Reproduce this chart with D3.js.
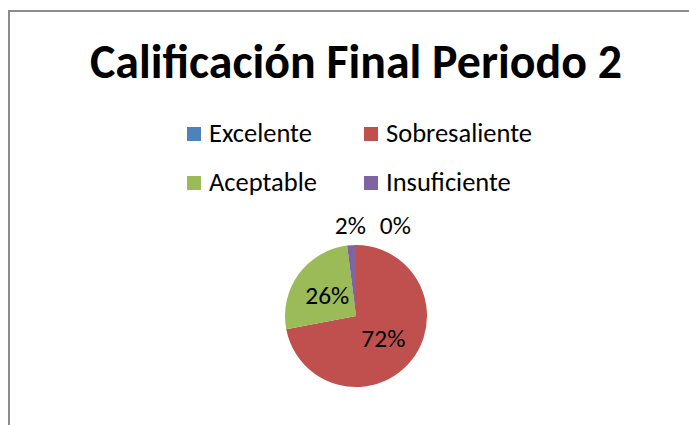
<!DOCTYPE html>
<html>
<head>
<meta charset="utf-8">
<script src="https://cdn.jsdelivr.net/npm/d3@7"></script>
<style>
  body { margin: 0; background: #fff; }
  svg { display: block; font-family: Carlito, Lato, "Open Sans", sans-serif; }
</style>
</head>
<body>
<svg id="chart" width="689" height="425"></svg>
<script>
const TITLE = "Calificación Final Periodo 2";
const categories = ["Excelente", "Sobresaliente", "Aceptable", "Insuficiente"];
const values = [0, 36, 13, 1];
const colors = ["#4F81BD", "#C0504D", "#9BBB59", "#8064A2"];

const W = 689, H = 425;
const svg = d3.select("#chart");

// font size that makes str come out w pixels wide
function fitSize(str, w, weight) {
  let t = svg.append("text").attr("font-size", 40).attr("font-weight", weight || "normal").text(str);
  let len = t.node().getComputedTextLength();
  t.remove();
  return 40 * w / len;
}

// chart frame, runs off the right and bottom edge
svg.append("rect")
  .attr("x", 9).attr("y", 11)
  .attr("width", W + 20).attr("height", H + 20)
  .attr("fill", "#fff")
  .attr("stroke", "#8c8c8c")
  .attr("stroke-width", 2);

svg.append("text")
  .attr("x", 356).attr("y", 78)
  .attr("text-anchor", "middle")
  .attr("font-weight", "bold")
  .attr("font-size", fitSize(TITLE, 532, "bold"))
  .attr("fill", "#000")
  .text(TITLE);

// legend, 2 columns
const legendX = [187, 364];
const legendY = [127, 176];
const SQ = 14;
const legendFont = fitSize("Sobresaliente", 146);
let lg = svg.append("g");
categories.forEach((c, i) => {
  let col = i % 2, row = Math.floor(i / 2);
  let g = lg.append("g").attr("transform", `translate(${legendX[col]},${legendY[row]})`);
  g.append("rect").attr("width", SQ).attr("height", SQ).attr("fill", colors[i]);
  g.append("text")
    .attr("x", 22).attr("y", SQ + 1)
    .attr("font-size", legendFont)
    .attr("fill", "#000")
    .text(c);
});

// pie
const cx = 356, cy = 316, R = 71;
const total = d3.sum(values);
const pie = d3.pie().sort(null).value(d => d)(values);
const arc = d3.arc().innerRadius(0).outerRadius(R);
const inner = d3.arc().innerRadius(R * 0.5).outerRadius(R * 0.5);
const outer = d3.arc().innerRadius(R + 20).outerRadius(R + 20);

let pg = svg.append("g").attr("transform", `translate(${cx},${cy})`);
pg.selectAll("path").data(pie).enter().append("path")
  .attr("d", arc)
  .attr("fill", (d, i) => colors[i]);

let labels = pie.map((d, i) => {
  let share = d.value / total;
  let small = share < 0.05;
  let p = small ? outer.centroid(d) : inner.centroid(d);
  return { txt: Math.round(share * 100) + "%", x: p[0], y: p[1], small: small, i: i };
});

const labelFont = fitSize("72%", 44);
let lt = pg.selectAll("text.lbl").data(labels).enter().append("text")
  .attr("class", "lbl")
  .attr("text-anchor", "middle")
  .attr("dominant-baseline", "central")
  .attr("font-size", labelFont)
  .attr("fill", "#000")
  .text(d => d.txt);

// push small outside labels apart so they don't sit on top of each other
let outs = labels.filter(d => d.small).sort((a, b) => a.x - b.x);
lt.each(function(d) { d.w = this.getComputedTextLength(); });
for (let k = 1; k < outs.length; k++) {
  let a = outs[k - 1], b = outs[k];
  let minDx = (a.w + b.w) / 2 + 14;
  if (b.x - a.x < minDx && Math.abs(b.y - a.y) < 24) b.x = a.x + minDx;
}
lt.attr("x", d => d.x).attr("y", d => d.y);
</script>
</body>
</html>
